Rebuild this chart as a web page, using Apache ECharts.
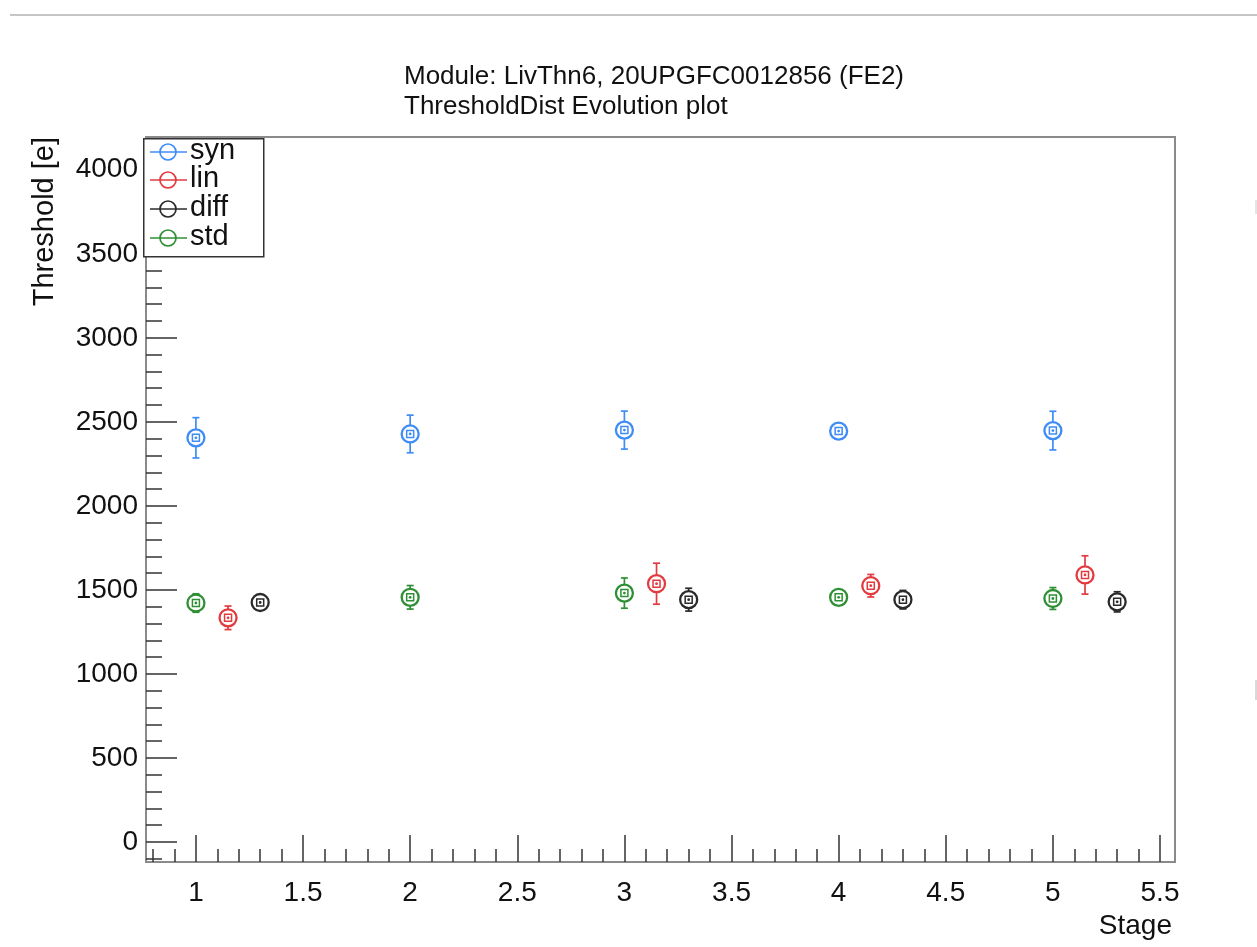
<!DOCTYPE html>
<html>
<head>
<meta charset="utf-8">
<script src="https://cdn.jsdelivr.net/npm/echarts@6/dist/echarts.min.js"></script>
<style>
html,body{margin:0;padding:0;background:#fff;}
#chart{width:1257px;height:947px;}
</style>
</head>
<body>
<div id="chart"></div>
<script>
// ---- data ----
const seriesNames = ['syn', 'lin', 'diff', 'std'];
const synX = [1, 2, 3, 4, 5];
const synY = [2405, 2428, 2451, 2445, 2448];
const synErr = [120, 112, 113, 35, 115];
const linX = [1.15, 3.15, 4.15, 5.15];
const linY = [1334, 1537, 1525, 1589];
const linErr = [70, 122, 67, 114];
const diffX = [1.3, 3.3, 4.3, 5.3];
const diffY = [1425, 1442, 1442, 1429];
const diffErr = [40, 68, 55, 60];
const stdX = [1, 2, 3, 4, 5];
const stdY = [1422, 1456, 1481, 1456, 1449];
const stdErr = [55, 70, 90, 50, 65];
const xMajorTicks = [1, 1.5, 2, 2.5, 3, 3.5, 4, 4.5, 5, 5.5];
const xMinorTicks = [0.8,0.9,1.1,1.2,1.3,1.4,1.6,1.7,1.8,1.9,2.1,2.2,2.3,2.4,2.6,2.7,2.8,2.9,3.1,3.2,3.3,3.4,3.6,3.7,3.8,3.9,4.1,4.2,4.3,4.4,4.6,4.7,4.8,4.9,5.1,5.2,5.3,5.4];
const yMajorTicks = [0, 500, 1000, 1500, 2000, 2500, 3000, 3500, 4000];
const yMinorTicks = [-100,100,200,300,400,600,700,800,900,1100,1200,1300,1400,1600,1700,1800,1900,2100,2200,2300,2400,2600,2700,2800,2900,3100,3200,3300,3400,3600,3700,3800,3900,4100];
const titleLines = ['Module: LivThn6, 20UPGFC0012856 (FE2)', 'ThresholdDist Evolution plot'];
const xName = 'Stage';
const yName = 'Threshold [e]';

const colors = ['#3f8cf7', '#e23a3f', '#2a2a2a', '#2f8f35'];
const FONT = '"Liberation Sans", Arial, Helvetica, sans-serif';

function build(x, y, e) { return x.map((v, i) => [v, y[i], e[i]]); }
const groups = [build(synX, synY, synErr), build(linX, linY, linErr), build(diffX, diffY, diffErr), build(stdX, stdY, stdErr)];

const R = 8.5;
function renderErr(color) {
  return function (params, api) {
    const x = api.value(0), y = api.value(1), e = api.value(2);
    const c = api.coord([x, y]);
    const top = api.coord([x, y + e]);
    const bot = api.coord([x, y - e]);
    const children = [];
    const ls = { stroke: color, lineWidth: 1.7 };
    if (c[1] - top[1] > R) {
      children.push({ type: 'line', shape: { x1: c[0], y1: c[1] - R, x2: c[0], y2: top[1] }, style: ls });
      children.push({ type: 'line', shape: { x1: c[0] - 3.5, y1: top[1], x2: c[0] + 3.5, y2: top[1] }, style: ls });
    }
    if (bot[1] - c[1] > R) {
      children.push({ type: 'line', shape: { x1: c[0], y1: c[1] + R, x2: c[0], y2: bot[1] }, style: ls });
      children.push({ type: 'line', shape: { x1: c[0] - 3.5, y1: bot[1], x2: c[0] + 3.5, y2: bot[1] }, style: ls });
    }
    children.push({ type: 'circle', shape: { cx: c[0], cy: c[1], r: R }, style: { fill: 'none', stroke: color, lineWidth: 2.3 } });
    children.push({ type: 'rect', shape: { x: c[0] - 3.5, y: c[1] - 3.5, width: 7, height: 7 }, style: { fill: 'none', stroke: color, lineWidth: 1.5 } });
    children.push({ type: 'circle', shape: { cx: c[0], cy: c[1], r: 1.4 }, style: { fill: color } });
    return { type: 'group', children: children };
  };
}

const series = groups.map((d, i) => ({
  name: seriesNames[i],
  type: 'custom',
  xAxisIndex: 0, yAxisIndex: 0,
  renderItem: renderErr(colors[i]),
  data: d,
  encode: { x: 0, y: 1 },
  z: 10,
  clip: false
}));

// legend drawn as graphic
const legendGraphics = [{
  type: 'rect', left: 143, top: 138, z: 20,
  shape: { width: 120, height: 118 },
  style: { fill: '#fff', stroke: '#333', lineWidth: 1.5 }
}];
const legendY = [152, 180, 209, 238];
seriesNames.forEach((n, i) => {
  const yy = legendY[i];
  legendGraphics.push({ type: 'line', z: 21, shape: { x1: 150, y1: yy, x2: 187, y2: yy }, style: { stroke: colors[i], lineWidth: 1.7 } });
  legendGraphics.push({ type: 'circle', z: 22, shape: { cx: 168, cy: yy, r: 8 }, style: { fill: 'none', stroke: colors[i], lineWidth: 1.7 } });
  legendGraphics.push({ type: 'text', z: 22, x: 190, y: yy - 1, style: { text: n, font: '29px ' + FONT, fill: '#111', verticalAlign: 'middle', align: 'left' } });
});

const grid = { left: 146, right: 82, top: 137, bottom: 85, show: true, borderColor: '#8a8a8a', borderWidth: 2, backgroundColor: 'transparent' };
const xMin = 0.767, xMax = 5.57, yMin = -119, yMax = 4195;
const plain = v => String(v);

const option = {
  animation: false,
  backgroundColor: '#fff',
  title: {
    text: titleLines.join('\n'),
    left: 399, top: 57,
    textStyle: { fontFamily: FONT, fontSize: 26, fontWeight: 'normal', color: '#111', lineHeight: 30 }
  },
  grid: grid,
  xAxis: [{
    type: 'value', min: xMin, max: xMax, position: 'bottom',
    splitLine: { show: false },
    axisLine: { show: true, onZero: false, lineStyle: { color: '#8a8a8a', width: 2 } },
    axisTick: { show: true, inside: true, length: 27, customValues: xMajorTicks, lineStyle: { color: '#333', width: 1.5 } },
    axisLabel: { show: true, customValues: xMajorTicks, margin: 17, fontFamily: FONT, fontSize: 28, color: '#111', formatter: plain },
    name: xName, nameLocation: 'end', nameGap: -3,
    nameTextStyle: { fontFamily: FONT, fontSize: 28, color: '#111', align: 'right', verticalAlign: 'top', padding: [50, 0, 0, 0] }
  }, {
    type: 'value', min: xMin, max: xMax, position: 'bottom',
    splitLine: { show: false }, axisLine: { show: false, onZero: false },
    axisTick: { show: true, inside: true, length: 13, customValues: xMinorTicks, lineStyle: { color: '#333', width: 1.5 } },
    axisLabel: { show: false }
  }],
  yAxis: [{
    type: 'value', min: yMin, max: yMax, position: 'left',
    splitLine: { show: false },
    axisLine: { show: true, onZero: false, lineStyle: { color: '#8a8a8a', width: 2 } },
    axisTick: { show: true, inside: true, length: 31, customValues: yMajorTicks, lineStyle: { color: '#333', width: 1.5 } },
    axisLabel: { show: true, customValues: yMajorTicks, margin: 8, fontFamily: FONT, fontSize: 28, color: '#111', formatter: plain },
    name: yName, nameLocation: 'end', nameGap: 0, nameRotate: 90,
    nameTextStyle: { fontFamily: FONT, fontSize: 29, color: '#111', align: 'right', verticalAlign: 'bottom', padding: [0, 0, 87, 0] }
  }, {
    type: 'value', min: yMin, max: yMax, position: 'left',
    splitLine: { show: false }, axisLine: { show: false, onZero: false },
    axisTick: { show: true, inside: true, length: 16, customValues: yMinorTicks, lineStyle: { color: '#333', width: 1.5 } },
    axisLabel: { show: false }
  }],
  series: series,
  graphic: [
    { type: 'line', shape: { x1: 10, y1: 15, x2: 1257, y2: 15 }, style: { stroke: '#c6c6c6', lineWidth: 2 } },
    { type: 'line', shape: { x1: 1256, y1: 200, x2: 1256, y2: 214 }, style: { stroke: '#dddddd', lineWidth: 1.5 } },
    { type: 'line', shape: { x1: 1256, y1: 680, x2: 1256, y2: 700 }, style: { stroke: '#cccccc', lineWidth: 1.5 } }
  ].concat(legendGraphics)
};

const chart = echarts.init(document.getElementById('chart'), null, { renderer: 'canvas' });
chart.setOption(option);
</script>
</body>
</html>
